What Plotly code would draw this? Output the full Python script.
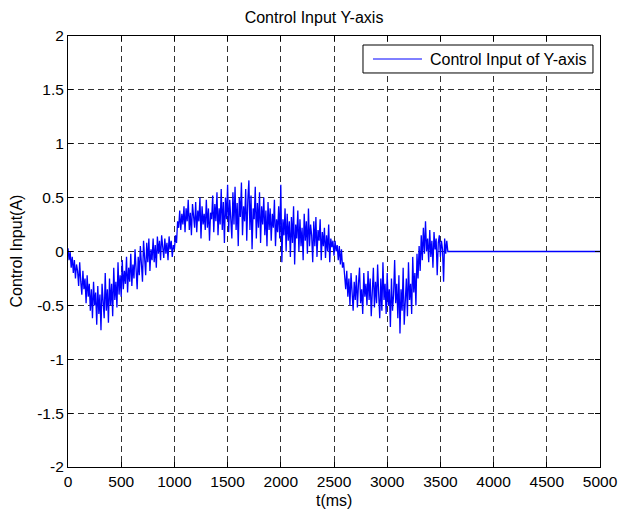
import plotly.graph_objects as go

# control input samples (A), 10 ms spacing, t = 0 .. 3560 ms
u_active = [
    0.03, -0.08, 0.00, -0.15, -0.05, -0.20, -0.08, -0.25, -0.12, -0.18,
    -0.32, -0.10, -0.28, -0.40, -0.18, -0.35, -0.25, -0.48, -0.22, -0.42,
    -0.30, -0.55, -0.35, -0.62, -0.28, -0.50, -0.38, -0.68, -0.32, -0.58,
    -0.40, -0.73, -0.30, -0.52, -0.62, -0.20, -0.55, -0.35, -0.66, -0.25,
    -0.50, -0.30, -0.60, -0.15, -0.45, -0.28, -0.52, -0.10, -0.40, -0.22,
    -0.42, -0.08, -0.35, -0.18, -0.30, -0.05, -0.38, -0.15, -0.28, -0.02,
    -0.32, -0.12, -0.25, 0.02, -0.20, -0.35, -0.05, -0.22, 0.05, -0.15,
    -0.28, 0.10, -0.12, -0.22, 0.08, -0.10, 0.12, -0.18, 0.02, -0.08,
    0.12, -0.10, 0.06, -0.15, 0.14, -0.02, 0.10, -0.08, 0.15, 0.00,
    -0.06, 0.12, -0.02, 0.08, -0.08, 0.14, 0.02, 0.10, -0.05, 0.06,
    0.02, 0.15, 0.08, 0.28, 0.22, 0.38, 0.20, 0.35, 0.25, 0.42,
    0.18, 0.40, 0.28, 0.48, 0.20, 0.36, 0.15, 0.44, 0.30, 0.22,
    0.46, 0.18, 0.38, 0.28, 0.50, 0.12, 0.42, 0.25, 0.35, 0.20,
    0.48, 0.22, 0.40, 0.10, 0.36, 0.30, 0.52, 0.18, 0.44, 0.28,
    0.55, 0.15, 0.40, 0.25, 0.58, 0.20, 0.46, 0.08, 0.50, 0.30,
    0.62, 0.18, 0.48, 0.30, 0.12, 0.55, 0.25, 0.60, 0.20, 0.45,
    0.05, 0.50, 0.32, 0.64, 0.15, 0.42, 0.28, 0.58, 0.10, 0.48,
    0.66, 0.20, 0.52, 0.02, 0.40, 0.30, 0.60, 0.12, 0.45, 0.22,
    0.55, 0.08, 0.42, 0.25, 0.50, 0.15, 0.38, 0.05, 0.46, 0.20,
    0.40, 0.10, 0.35, 0.22, 0.48, 0.05, 0.30, 0.18, 0.42, 0.12,
    0.62, -0.10, 0.30, 0.15, 0.40, 0.00, 0.35, 0.10, 0.28, -0.05,
    0.32, 0.08, 0.42, -0.12, 0.25, 0.12, 0.38, 0.00, 0.30, 0.05,
    0.22, -0.08, 0.35, 0.10, 0.28, -0.02, 0.40, 0.05, 0.25, 0.15,
    -0.10, 0.28, 0.05, 0.32, -0.05, 0.20, 0.10, 0.30, -0.08, 0.18,
    0.05, 0.22, -0.06, 0.15, 0.00, 0.25, -0.10, 0.12, 0.04, 0.10,
    -0.04, 0.10, 0.00, 0.06, -0.08, 0.05, -0.12, 0.02, -0.15, -0.10,
    -0.22, -0.35, -0.18, -0.42, -0.25, -0.50, -0.20, -0.38, -0.55, -0.28,
    -0.45, -0.22, -0.52, -0.30, -0.15, -0.48, -0.35, -0.58, -0.20, -0.42,
    -0.30, -0.50, -0.18, -0.45, -0.25, -0.60, -0.32, -0.15, -0.52, -0.28,
    -0.48, -0.12, -0.40, -0.62, -0.25, -0.55, -0.10, -0.45, -0.30, -0.58,
    -0.20, -0.50, -0.35, -0.70, -0.25, -0.55, -0.40, -0.08, -0.48, -0.30,
    -0.62, -0.22, -0.76, -0.35, -0.55, -0.15, -0.68, -0.40, -0.25, -0.60,
    -0.10, -0.45, -0.30, -0.58, -0.05, -0.38, -0.20, -0.50, -0.02, -0.25,
    0.05, -0.18, 0.15, -0.08, 0.22, -0.02, 0.28, 0.00, 0.12, -0.10,
    0.20, -0.05, 0.10, -0.15, 0.18, 0.02, 0.12, -0.22, 0.08, 0.15,
    -0.05, 0.10, 0.02, -0.28, 0.12, -0.02, 0.10,
]
t_active = [i * 10 for i in range(len(u_active))]
# flat tail after control stops
t_tail = [3570, 5000]
u_tail = [0.0, 0.0]

t = t_active + t_tail
u = u_active + u_tail

series_name = "Control Input of Y-axis"
x_title = "t(ms)"
y_title = "Control Input(A)"
x_ticks = [0, 500, 1000, 1500, 2000, 2500, 3000, 3500, 4000, 4500, 5000]
y_ticks = [-2, -1.5, -1, -0.5, 0, 0.5, 1, 1.5, 2]
y_ticktext = ["-2", "-1.5", "-1", "-0.5", "0", "0.5", "1", "1.5", "2"]

FONT = "Liberation Sans, Arial"
BLUE = "#0000ff"

fig = go.Figure()
fig.add_trace(go.Scatter(
    x=t, y=u, mode="lines", name=series_name,
    line=dict(color=BLUE, width=1.3), showlegend=False,
))

axis_common = dict(
    showline=True, linecolor="black", linewidth=1, mirror="ticks",
    ticks="inside", ticklen=5, tickcolor="black",
    showgrid=True, gridcolor="#303030", gridwidth=1, griddash="6px,4px",
    zeroline=False, automargin=False,
    tickfont=dict(family=FONT, size=15.5, color="black"),
)

# legend box drawn in axis-domain coordinates
fig.add_shape(type="rect", xref="x domain", yref="y domain",
              x0=0.5545, x1=0.9868, y0=0.9142, y1=0.9791,
              line=dict(color="black", width=1), fillcolor="white", layer="above")
fig.add_shape(type="line", xref="x domain", yref="y domain",
              x0=0.5733, x1=0.6654, y0=0.9466, y1=0.9466,
              line=dict(color=BLUE, width=1), layer="above")
fig.add_annotation(xref="x domain", yref="y domain", x=0.6767, y=0.9466,
                   xanchor="left", yanchor="middle", showarrow=False,
                   text=series_name, font=dict(family=FONT, size=16, color="black"))

# axis titles
fig.add_annotation(xref="paper", yref="paper", x=0.5, y=(467 - 500) / 431,
                   xanchor="center", yanchor="middle", showarrow=False,
                   text=x_title, font=dict(family=FONT, size=16, color="black"))
fig.add_annotation(xref="paper", yref="paper", x=(16 - 68) / 532, y=0.5,
                   xanchor="center", yanchor="middle", showarrow=False, textangle=-90,
                   text=y_title, font=dict(family=FONT, size=16, color="black"))

fig.update_layout(
    width=628, height=512,
    margin=dict(l=68, r=28, t=36, b=45, autoexpand=False),
    paper_bgcolor="white", plot_bgcolor="white",
    font=dict(family=FONT, size=16, color="black"),
    title=dict(text="Control Input Y-axis", x=0.5, xanchor="center",
               y=1 - 17.5 / 512, yanchor="middle",
               font=dict(size=16, color="black")),
    xaxis=dict(range=[0, 5000], tickvals=x_ticks, **axis_common),
    yaxis=dict(range=[-2, 2], tickvals=y_ticks, ticktext=y_ticktext, **axis_common),
    showlegend=False,
)

fig.write_html("out.html")
